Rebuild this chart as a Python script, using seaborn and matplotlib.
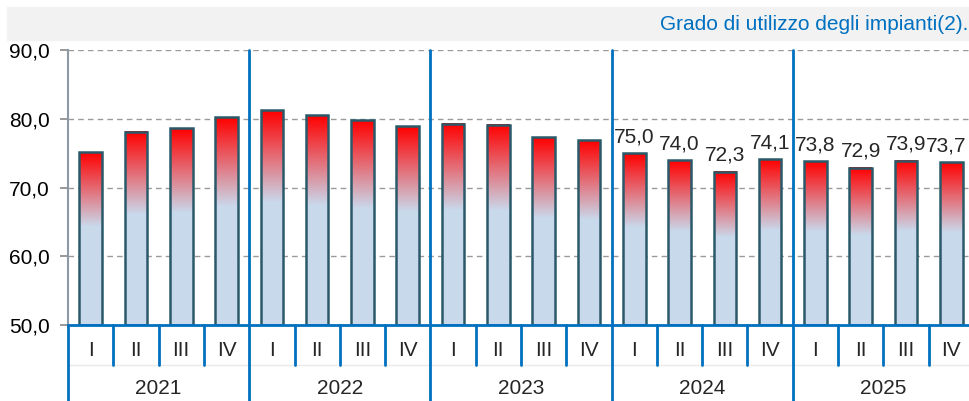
import numpy as np
import pandas as pd
import matplotlib.pyplot as plt
import matplotlib.transforms as mtransforms
from matplotlib.ticker import FuncFormatter
import seaborn as sns

# Data
years = ["2021", "2022", "2023", "2024", "2025"]
quarters = ["I", "II", "III", "IV"]
values = [75.1, 78.1, 78.6, 80.2,
          81.2, 80.5, 79.8, 78.9,
          79.3, 79.1, 77.3, 76.9,
          75.0, 74.0, 72.3, 74.1,
          73.8, 72.9, 73.9, 73.7]
labelled_years = ["2024", "2025"]
title = "Grado di utilizzo degli impianti(2)."

df = pd.DataFrame({
    "year": np.repeat(years, len(quarters)),
    "quarter": quarters * len(years),
    "value": values,
})
df["period"] = df["year"] + "-" + df["quarter"]

sns.set_theme(style="white")
plt.rcParams["font.family"] = ["Liberation Sans", "DejaVu Sans"]

BLUE = "#0070C0"
LIGHT = np.array([0.788, 0.851, 0.925])
RED = np.array([1.0, 0.0, 0.0])
EDGE = "#2A5A69"
BASE = 50

fig = plt.figure(figsize=(9.69, 4.01), dpi=100)
fig.patches.append(plt.Rectangle((7 / 969, 1 - 40 / 401), 1, 33 / 401,
                                 transform=fig.transFigure, color="#F2F2F2", zorder=0))
fig.text(0.9995, 1 - 24 / 401, title, color=BLUE, fontsize=15, ha="right", va="center")

ax = fig.add_axes([68 / 969, 76 / 401, 906 / 969, 275 / 401])
sns.barplot(data=df, x="period", y="value", order=df["period"], width=0.5,
            color="white", edgecolor=EDGE, linewidth=1.8, ax=ax)

# gradient fill for each bar: light blue at the bottom, red at the top
n = 256
frac = np.linspace(0, 1, n)
for patch in ax.patches:
    x0 = patch.get_x()
    w = patch.get_width()
    top = patch.get_height()
    t = np.clip((frac - 0.57) / 0.43, 0, 1)[:, None]
    grad = (LIGHT * (1 - t) + RED * t)[:, None, :]
    ax.imshow(grad, extent=[x0, x0 + w, BASE, top], origin="lower",
              aspect="auto", zorder=1, interpolation="bilinear")
    patch.set_facecolor("none")
    patch.set_zorder(2)
    patch.set_y(BASE)
    patch.set_height(top - BASE)

ax.set_xlim(-0.5, len(values) - 0.5)
ax.set_ylim(BASE, 90)
ax.set_yticks([50, 60, 70, 80, 90])
ax.yaxis.set_major_formatter(FuncFormatter(lambda v, p: f"{v:.1f}".replace(".", ",")))
ax.tick_params(axis="y", labelsize=15, left=True, length=6, color="#8C8C8C",
               labelcolor="black", pad=7)
ax.set_xticks([])
ax.set_xlabel("")
ax.set_ylabel("")
for y in [60, 70, 80, 90]:
    ax.axhline(y, color="#9A9A9A", lw=1, ls=(0, (4, 3)), zorder=0)

for s in ["top", "right"]:
    ax.spines[s].set_visible(False)
ax.spines["left"].set_color("#8C99A6")
ax.spines["left"].set_linewidth(1.5)
ax.spines["bottom"].set_color(BLUE)
ax.spines["bottom"].set_linewidth(2)

# value labels for the last two years (last one nudged left to stay inside)
for i, row in df.iterrows():
    if row["year"] in labelled_years:
        dx = -3.5 if i == len(values) - 1 else 0
        ax.annotate(f"{row['value']:.1f}".replace(".", ","), (i, row["value"]),
                    xytext=(dx, 5), textcoords="offset points",
                    ha="center", va="bottom", fontsize=15)

# two-level category axis
trans = mtransforms.blended_transform_factory(ax.transData, ax.transAxes)
bottom_y = -(401 - 325) / 275
q_sep_y = -(365 - 325) / 275
ax.plot([-0.5, len(values) - 0.5], [q_sep_y, q_sep_y], transform=trans,
        color="#EAEAEA", lw=1, clip_on=False)
for k in range(len(years) + 1):
    xs = -0.5 + k * len(quarters)
    top_y = 0 if k == 0 else 1
    ax.plot([xs, xs], [bottom_y, top_y], transform=trans, color=BLUE, lw=2, clip_on=False)
for i, row in df.iterrows():
    if i % len(quarters) != 0:
        ax.plot([i - 0.5, i - 0.5], [q_sep_y, 0], transform=trans,
                color=BLUE, lw=2, clip_on=False)
    ax.text(i, -(350 - 325) / 275, row["quarter"], transform=trans,
            ha="center", va="center", fontsize=15)
for k, yr in enumerate(years):
    xc = k * len(quarters) + (len(quarters) - 1) / 2
    ax.text(xc, -(389 - 325) / 275, yr, transform=trans,
            ha="center", va="center", fontsize=15)

fig.savefig("out.png", dpi=100)
